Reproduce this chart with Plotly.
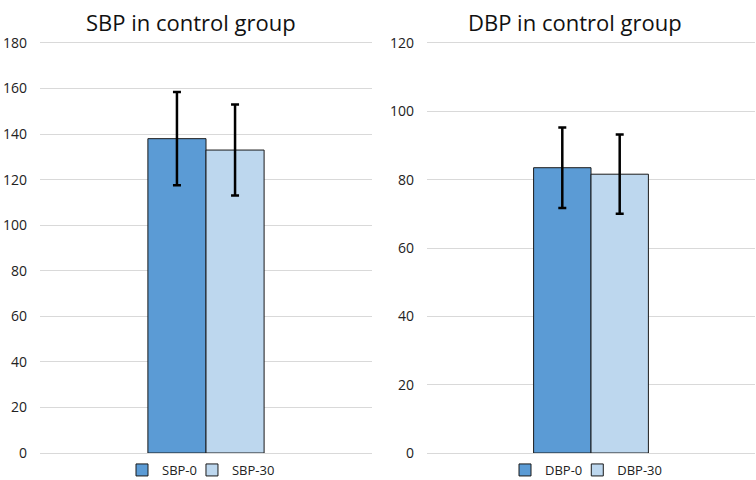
import plotly.graph_objects as go

sbp_names = ["SBP-0", "SBP-30"]
sbp_means = [138.0, 133.0]
sbp_sd = [20.5, 20.0]

dbp_names = ["DBP-0", "DBP-30"]
dbp_means = [83.5, 81.6]
dbp_sd = [11.8, 11.6]

colors = ["#5B9BD5", "#BDD7EE"]
font_family = "Open Sans, Liberation Sans, sans-serif"
grid_color = "#d9d9d9"

fig = go.Figure()
for i, (n, m, s) in enumerate(zip(sbp_names, sbp_means, sbp_sd)):
    fig.add_trace(go.Bar(
        x=[""], y=[m], name=n, xaxis="x", yaxis="y", legend="legend",
        marker=dict(color=colors[i], line=dict(color="#1a1a1a", width=1)),
        error_y=dict(type="data", array=[s], color="black", thickness=2.5, width=4),
    ))
for i, (n, m, s) in enumerate(zip(dbp_names, dbp_means, dbp_sd)):
    fig.add_trace(go.Bar(
        x=[""], y=[m], name=n, xaxis="x2", yaxis="y2", legend="legend2",
        marker=dict(color=colors[i], line=dict(color="#1a1a1a", width=1)),
        error_y=dict(type="data", array=[s], color="black", thickness=2.5, width=4),
    ))

W, H = 756, 480
T, B = 43, 27
PH = H - T - B
d1 = [40 / W, 372 / W]
d2 = [427 / W, 755 / W]

axis_common = dict(showgrid=True, gridcolor=grid_color, gridwidth=1,
                   zeroline=False, showline=False, ticks="",
                   tickfont=dict(size=14, color="#222222", family=font_family),
                   automargin=False)
xaxis_common = dict(showticklabels=False, showgrid=False, zeroline=False, ticks="",
                    showline=True, linecolor=grid_color, linewidth=1, mirror=True)

leg_y = -(470 - (H - B)) / PH
leg_common = dict(orientation="h", xanchor="center", y=leg_y, yanchor="middle",
                  font=dict(size=13, color="#222222"), itemwidth=30, traceorder="normal",
                  bgcolor="rgba(0,0,0,0)", tracegroupgap=0, indentation=-10)

fig.update_layout(
    width=W, height=H,
    margin=dict(l=0, r=0, t=T, b=B, autoexpand=False),
    paper_bgcolor="white", plot_bgcolor="white",
    barmode="group", bargap=0.65, bargroupgap=0,
    font=dict(family=font_family),
    xaxis=dict(domain=d1, **xaxis_common),
    xaxis2=dict(domain=d2, anchor="y2", **xaxis_common),
    yaxis=dict(range=[0, 180], dtick=20, ticklabelstandoff=12, **axis_common),
    yaxis2=dict(range=[0, 120], dtick=20, anchor="x2", ticklabelstandoff=12, **axis_common),
    legend=dict(x=(d1[0] + d1[1]) / 2, **leg_common),
    legend2=dict(x=(d2[0] + d2[1]) / 2, **leg_common),
    annotations=[
        dict(text="SBP in control group", x=191 / W, y=1, xref="paper", yref="paper",
             yanchor="middle", xanchor="center", showarrow=False, yshift=T - 22,
             font=dict(size=22, color="#111111")),
        dict(text="DBP in control group", x=575 / W, y=1, xref="paper", yref="paper",
             yanchor="middle", xanchor="center", showarrow=False, yshift=T - 22,
             font=dict(size=22, color="#111111")),
    ],
)

fig.write_html("out.html", config={"displayModeBar": False},
               post_script="document.body.style.margin='0';")
